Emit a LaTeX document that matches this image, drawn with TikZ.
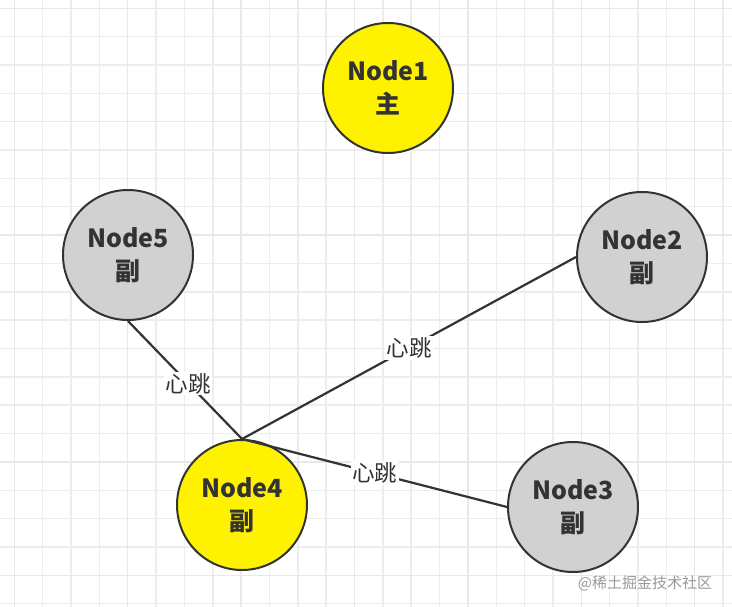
\documentclass[tikz,border=0pt]{standalone}
\usepackage{fontspec}
\setmainfont{Noto Sans CJK SC}
\begin{document}
\begin{tikzpicture}[x=1pt,y=-1pt,
  gridminor/.style={draw=black!7,line width=1.5pt},
  gridmajor/.style={draw=black!9,line width=1.5pt},
  nodebase/.style={circle,draw=black!80,line width=2pt,minimum size=130pt,inner sep=0pt,align=center,text=black!80,font=\fontsize{25}{33}\selectfont\bfseries},
  master/.style={nodebase,fill=yellow},
  slave/.style={nodebase,fill=black!18},
  conn/.style={draw=black!80,line width=2.2pt},
  lbl/.style={fill=white,inner sep=1.5pt,text=black!80,font=\fontsize{22.5}{24}\selectfont}
]
\useasboundingbox[fill=white] (0,0) rectangle (732,607);
\foreach \i in {0,...,25}{
  \pgfmathsetmacro\xx{14.3+28.35*\i}
  \draw[gridminor] (\xx,0) -- (\xx,607);
}
\foreach \i in {0,...,21}{
  \pgfmathsetmacro\yy{8.3+28.35*\i}
  \draw[gridminor] (0,\yy) -- (732,\yy);
}
\foreach \i in {0,...,6}{
  \pgfmathsetmacro\xx{14.3+113.4*\i}
  \draw[gridmajor] (\xx,0) -- (\xx,607);
}
\foreach \i in {0,...,5}{
  \pgfmathsetmacro\yy{8.3+113.4*\i}
  \draw[gridmajor] (0,\yy) -- (732,\yy);
}
\node[master] (n1) at (388,88) {Node1\\主};
\node[slave] (n5) at (128,255) {Node5\\副};
\node[slave] (n2) at (642,257) {Node2\\副};
\node[master] (n4) at (242,505) {Node4\\副};
\node[slave] (n3) at (573,507) {Node3\\副};
\draw[conn] (n5.south) -- node[lbl,pos=0.53] {心跳} (n4.north);
\draw[conn] (n2.west) -- node[lbl,pos=0.5] {心跳} (n4.north);
\draw[conn] (n3.west) -- node[lbl,pos=0.5] {心跳} (n4.north);
\node[text=black!40,font=\fontsize{15}{17}\selectfont,anchor=center] (wm) at (645,583) {@稀土掘金技术社区};
\end{tikzpicture}
\end{document}
